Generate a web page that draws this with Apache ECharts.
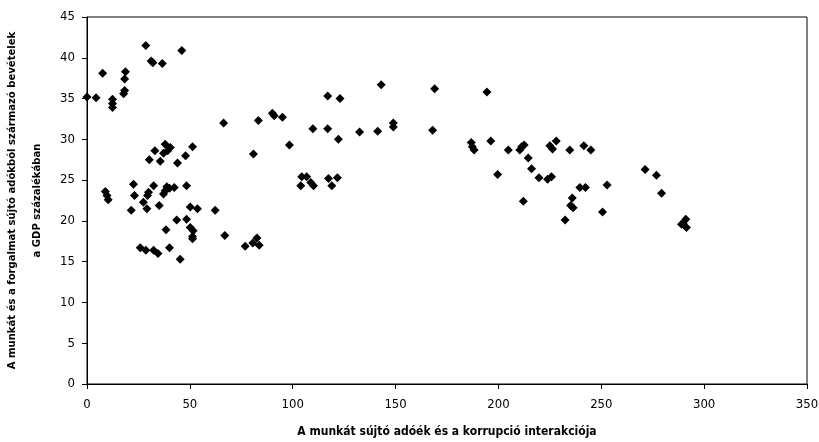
<!DOCTYPE html>
<html>
<head>
<meta charset="utf-8">
<script src="https://cdn.jsdelivr.net/npm/echarts@6/dist/echarts.min.js"></script>
<style>html,body{margin:0;padding:0;background:#fff}#c{width:819px;height:442px}</style>
</head>
<body>
<div id="c"></div>
<script>
var xValues = [0,4.4,7.6,12.4,12.4,12.4,17.8,18.3,18.3,18.7,28.6,31.2,32.0,36.6,46.1,8.9,9.7,10.3,22.6,23.1,21.5,32.4,29.9,29.4,27.4,29.1,35.1,37.2,38.0,38.8,40.1,42.4,48.4,50.2,53.7,62.3,43.6,48.4,38.4,50.2,51.6,51.3,51.3,67.0,25.9,28.6,32.4,34.5,40.1,45.3,76.9,80.6,82.6,83.7,30.3,35.6,33.0,38.0,40.5,39.2,37.2,44.0,47.9,51.3,66.4,80.9,83.3,90.1,91.0,95.0,98.4,104.4,106.8,108.8,110.1,103.9,109.8,117.0,123.0,117.0,122.2,117.4,121.7,119.0,132.5,141.3,143.0,148.9,148.9,168.0,169.0,194.4,186.8,187.3,188.2,196.3,204.8,210.4,211.3,212.5,214.5,216.1,219.7,223.9,225.8,225.0,226.3,228.1,234.7,241.5,244.9,199.6,212.1,239.6,242.3,252.8,235.9,235.1,236.3,232.4,250.6,271.3,276.8,279.3,289.8,291.1,291.4,289.0];
var yValues = [35.2,35.1,38.1,34.9,34.4,33.9,35.6,36.0,37.4,38.3,41.5,39.6,39.4,39.3,40.9,23.6,23.1,22.6,24.5,23.1,21.3,24.3,23.5,23.1,22.3,21.5,21.9,23.3,23.7,24.2,24.0,24.1,24.3,21.7,21.5,21.3,20.1,20.2,18.9,19.2,18.8,18.1,17.8,18.2,16.7,16.4,16.4,16.0,16.7,15.3,16.9,17.3,17.9,17.0,27.5,27.3,28.6,29.4,29.0,28.6,28.3,27.1,28.0,29.1,32.0,28.2,32.3,33.2,32.9,32.7,29.3,25.4,25.4,24.7,24.3,24.3,31.3,35.3,35.0,31.3,30.0,25.2,25.3,24.3,30.9,31.0,36.7,32.0,31.5,31.1,36.2,35.8,29.6,29.1,28.7,29.8,28.7,28.7,29.1,29.3,27.7,26.4,25.3,25.1,25.4,29.2,28.8,29.8,28.7,29.2,28.7,25.7,22.4,24.1,24.1,24.4,22.8,21.9,21.6,20.1,21.1,26.3,25.6,23.4,19.7,20.2,19.2,19.6];
var xTicks = [0,50,100,150,200,250,300,350];
var yTicks = [0,5,10,15,20,25,30,35,40,45];
var xTitle = 'A munkát sújtó adóék és a korrupció interakciója';
var yTitle = 'A munkát és a forgalmat sújtó adókból származó bevételek\na GDP százalékában';

var pts = xValues.map(function(x,i){return [x,yValues[i]];});
var font = '"DejaVu Sans Condensed","Liberation Sans Narrow",sans-serif';
var chart = echarts.init(document.getElementById('c'), null, {renderer:'canvas'});
chart.setOption({
  animation:false,
  backgroundColor:'#fff',
  grid:{left:87,right:12,top:17,bottom:58,show:true,borderColor:'#000',borderWidth:1,
    backgroundColor:'transparent',containLabel:false,outerBoundsMode:'none'},
  xAxis:{type:'value',min:0,max:350,interval:50,
    name:xTitle,nameLocation:'middle',nameGap:42,
    nameTextStyle:{fontFamily:font,fontSize:12,fontWeight:'bold',color:'#000'},
    axisLine:{lineStyle:{color:'#000',width:1}},
    axisTick:{show:true,inside:false,length:5,lineStyle:{color:'#000'}},
    axisLabel:{fontFamily:font,fontSize:13,color:'#000',margin:14},
    splitLine:{show:false}},
  yAxis:{type:'value',min:0,max:45,interval:5,
    name:yTitle,nameLocation:'middle',nameGap:26,nameRotate:90,
    nameTextStyle:{fontFamily:font,fontSize:11.2,fontWeight:'bold',color:'#000',lineHeight:25,align:'center'},
    axisLine:{show:true,lineStyle:{color:'#000',width:1}},
    axisTick:{show:true,inside:false,length:5,lineStyle:{color:'#000'}},
    axisLabel:{fontFamily:font,fontSize:13,color:'#000',margin:12},
    splitLine:{show:false}},
  series:[{type:'scatter',data:pts,symbol:'diamond',symbolSize:9,
    itemStyle:{color:'#000',opacity:1}}]
});
</script>
</body>
</html>
